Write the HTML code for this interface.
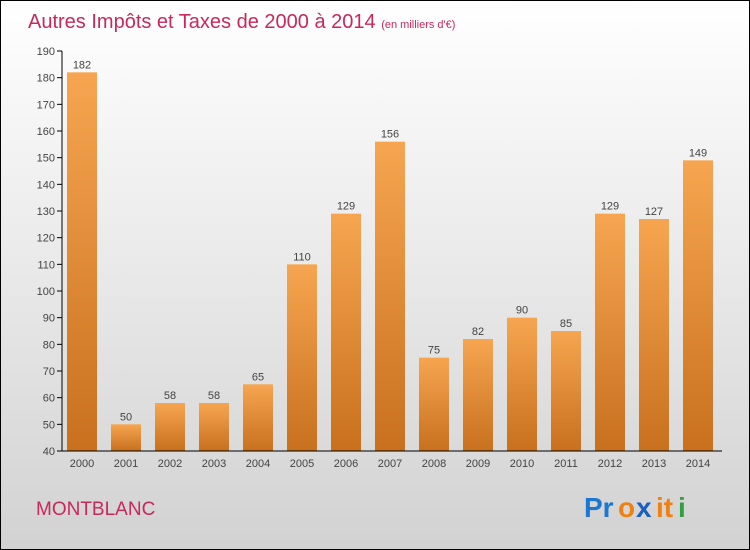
<!DOCTYPE html>
<html><head><meta charset="utf-8"><style>
body{margin:0}
#c{position:relative;width:748px;height:548px;border:1px solid #000;background:linear-gradient(#ffffff,#d2d2d2);font-family:"Liberation Sans",sans-serif;overflow:hidden}
</style></head><body>
<div id="c">
<svg id="s" width="748" height="548">
<defs><linearGradient id="g" x1="0" y1="0" x2="0" y2="1"><stop offset="0" stop-color="#f7a550"/><stop offset="1" stop-color="#c8701e"/></linearGradient></defs>
<text x="27" y="27" font-size="20" fill="#c8285a">Autres Impôts et Taxes de 2000 à 2014 <tspan font-size="11">(en milliers d'€)</tspan></text>
<text x="35" y="514" font-size="19" fill="#c8285a">MONTBLANC</text>
<g font-size="28" font-weight="bold">
<text x="583" y="516" fill="#1a78d0">Pr</text><text x="617" y="516" fill="#f08010">o</text><text x="635" y="516" fill="#1a60c0">x</text><text x="655" y="516" fill="#f08010">it</text><text x="677" y="516" fill="#30a040">i</text>
</g>
</svg>
</div>
<script>
const years=["2000","2001","2002","2003","2004","2005","2006","2007","2008","2009","2010","2011","2012","2013","2014"];
const values=[182,50,58,58,65,110,129,156,75,82,90,85,129,127,149];
const ticks=[40,50,60,70,80,90,100,110,120,130,140,150,160,170,180,190];
const s=document.getElementById('s'),NS='http://www.w3.org/2000/svg';
const y=v=>450-(v-40)*400/150, x=i=>81+44*i;
function mk(t,a,p){const e=document.createElementNS(NS,t);for(const k in a)e.setAttribute(k,a[k]);(p||s).appendChild(e);return e;}
ticks.forEach(t=>{
 const l=mk('line',{x1:56,x2:61,y1:y(t),y2:y(t),stroke:'#000'});
 
 
 const tx=mk('text',{x:54,y:y(t)+4,'font-size':11,fill:'#444','text-anchor':'end'});tx.textContent=t;
 
 
});
values.forEach((v,i)=>{
 const r=mk('rect',{x:x(i)-15,y:y(v),width:30,height:450-y(v),fill:'url(#g)'});
 
 
 const t=mk('text',{x:x(i),y:y(v)-4,'font-size':11,fill:'#444','text-anchor':'middle'});t.textContent=v;
 
 
 const xl=mk('text',{x:x(i),y:466,'font-size':11,fill:'#444','text-anchor':'middle'});xl.textContent=years[i];
 
 
});
const ya=mk('line',{x1:61,x2:61,y1:y(190),y2:450,stroke:'#000'});


const xa=mk('line',{x1:61,x2:721,y1:450,y2:450,stroke:'#000'});


</script>
</body></html>
